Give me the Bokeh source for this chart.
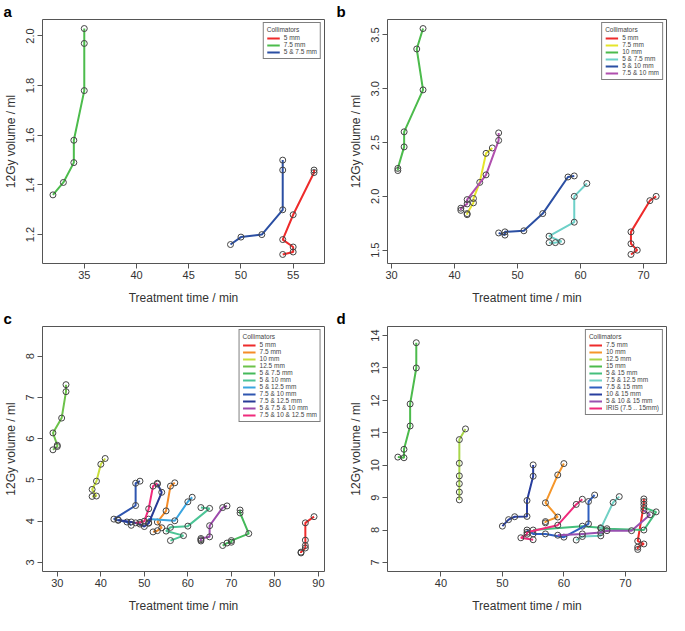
from bokeh.plotting import figure
from bokeh.models import Legend, LegendItem, Title, FixedTicker, Range1d
from bokeh.layouts import row, column
from bokeh.embed import file_html
from bokeh.resources import INLINE

FONT = "Liberation Sans"

# ---------------- Panel a ----------------
a_names = ["5 mm", "7.5 mm", "5 & 7.5 mm"]
a_colors = ["#ee2b2b", "#4cbc4c", "#2b4fa3"]
a_5_x = [54, 55, 55, 54, 55, 57, 57]
a_5_y = [1.12, 1.13, 1.15, 1.18, 1.28, 1.45, 1.46]
a_75_x = [32, 33, 34, 34, 35, 35, 35]
a_75_y = [1.36, 1.41, 1.49, 1.58, 1.78, 1.97, 2.03]
a_5_75_x = [49, 50, 52, 54, 54, 54]
a_5_75_y = [1.16, 1.19, 1.20, 1.30, 1.46, 1.50]
a_xticks = [35, 40, 45, 50, 55]
a_yticks = [1.2, 1.4, 1.6, 1.8, 2.0]
a_ylabels = ["1.2", "1.4", "1.6", "1.8", "2.0"]

# ---------------- Panel b ----------------
b_names = ["5 mm", "7.5 mm", "10 mm", "5 & 7.5 mm", "5 & 10 mm", "7.5 & 10 mm"]
b_colors = ["#ee2b2b", "#e5e52a", "#4cbb4c", "#6dd0c8", "#2b4fa3", "#b04fae"]
b_5_x = [68, 69, 68, 68, 71, 72]
b_5_y = [1.46, 1.50, 1.56, 1.67, 1.96, 2.00]
b_75_x = [42, 42, 43, 43, 44, 45, 46]
b_75_y = [1.83, 1.84, 1.94, 1.98, 2.13, 2.40, 2.45]
b_10_x = [31, 31, 32, 32, 35, 34, 35]
b_10_y = [2.24, 2.26, 2.46, 2.60, 2.99, 3.37, 3.56]
b_5_75_x = [55, 56, 57, 55, 59, 59, 61]
b_5_75_y = [1.57, 1.57, 1.58, 1.63, 1.76, 2.00, 2.12]
b_5_10_x = [47, 48, 48, 51, 54, 58, 59]
b_5_10_y = [1.66, 1.64, 1.67, 1.68, 1.84, 2.18, 2.19]
b_75_10_x = [41, 41, 42, 42, 45, 47, 47]
b_75_10_y = [1.87, 1.89, 1.93, 1.97, 2.20, 2.52, 2.59]
b_xticks = [30, 40, 50, 60, 70]
b_yticks = [1.5, 2.0, 2.5, 3.0, 3.5]
b_ylabels = ["1.5", "2.0", "2.5", "3.0", "3.5"]

# ---------------- Panel c ----------------
c_names = ["5 mm", "7.5 mm", "10 mm", "12.5 mm", "5 & 7.5 mm", "5 & 10 mm",
           "5 & 12.5 mm", "7.5 & 10 mm", "7.5 & 12.5 mm", "5 & 7.5 & 10 mm",
           "7.5 & 10 & 12.5 mm"]
c_colors = ["#ee2b2b", "#f58c28", "#c8de3c", "#6cc24a", "#44b95a", "#4cc496",
            "#3aa5e0", "#2f56b0", "#283a96", "#9c4aac", "#f02a7c"]
c_5_x = [86, 86, 87, 87, 87, 87, 89]
c_5_y = [3.23, 3.25, 3.35, 3.41, 3.54, 3.96, 4.11]
c_75_x = [52, 53, 54, 53, 55, 56, 57]
c_75_y = [3.74, 3.77, 3.84, 3.98, 4.25, 4.85, 4.93]
c_10_x = [38, 39, 38, 39, 40, 41]
c_10_y = [4.60, 4.61, 4.77, 4.97, 5.38, 5.52]
c_125_x = [29, 30, 30, 29, 31, 32, 32]
c_125_y = [5.73, 5.81, 5.84, 6.14, 6.50, 7.14, 7.31]
c_5_75_x = [68, 69, 70, 70, 74, 72, 72]
c_5_75_y = [3.41, 3.47, 3.49, 3.53, 3.70, 4.20, 4.27]
c_5_10_x = [56, 59, 55, 56, 60, 65, 63]
c_5_10_y = [3.53, 3.65, 3.76, 3.85, 3.88, 4.31, 4.33]
c_5_125_x = [51, 51, 57, 60, 61]
c_5_125_y = [3.96, 4.05, 4.01, 4.47, 4.58]
c_75_10_x = [47, 46, 44, 43, 48, 48, 49]
c_75_10_y = [3.90, 3.98, 4.02, 4.05, 4.38, 4.92, 4.97]
c_75_125_x = [44, 47, 49, 50, 51, 54, 53]
c_75_125_y = [4.03, 3.98, 3.93, 3.87, 3.95, 4.70, 4.90]
c_5_75_10_x = [63, 63, 63, 65, 65, 68, 69]
c_5_75_10_y = [3.52, 3.55, 3.58, 3.62, 3.89, 4.33, 4.37]
c_75_10_125_x = [48, 49, 50, 51, 52, 53]
c_75_10_125_y = [3.96, 3.97, 4.00, 4.30, 4.85, 4.92]
c_xticks = [30, 40, 50, 60, 70, 80, 90]
c_yticks = [3, 4, 5, 6, 7, 8]
c_ylabels = ["3", "4", "5", "6", "7", "8"]
c_ylim = (3, 8.5)

# ---------------- Panel d ----------------
d_names = ["7.5 mm", "10 mm", "12.5 mm", "15 mm", "5 & 15 mm", "7.5 & 12.5 mm",
           "7.5 & 15 mm", "10 & 15 mm", "5 & 10 & 15 mm", "IRIS (7.5 .. 15mm)"]
d_colors = ["#ee2b2b", "#f5962a", "#a8d64a", "#4cbb4c", "#44bf7c", "#70d0c4",
            "#2f5fc0", "#283e9e", "#9850b0", "#f02a7c"]
d_75_x = [73, 73, 73, 72, 73, 72, 72]
d_75_y = [8.96, 8.88, 8.79, 7.66, 7.57, 7.47, 7.40]
d_10_x = [57, 57, 59, 57, 59, 60]
d_10_y = [8.22, 8.26, 8.40, 8.84, 9.70, 10.05]
d_125_x = [43, 43, 43, 43, 43, 43, 44]
d_125_y = [8.93, 9.17, 9.43, 9.67, 10.06, 10.79, 11.12]
d_15_x = [33, 34, 34, 35, 35, 36, 36]
d_15_y = [10.25, 10.23, 10.49, 11.21, 11.89, 13.00, 13.78]
d_5_15_x = [55, 63, 66, 67, 73, 75, 73]
d_5_15_y = [8.00, 8.12, 8.07, 8.04, 8.00, 8.56, 8.69]
d_75_125_x = [62, 63, 66, 66, 68, 69]
d_75_125_y = [7.69, 7.80, 7.82, 8.05, 8.85, 9.03]
d_75_15_x = [54, 55, 57, 60, 64, 64, 65]
d_75_15_y = [8.00, 7.88, 7.88, 7.78, 8.19, 8.88, 9.08]
d_10_15_x = [50, 51, 52, 54, 54, 55, 55]
d_10_15_y = [8.12, 8.32, 8.41, 8.42, 8.91, 9.66, 10.01]
d_5_10_15_x = [59, 63, 66, 67, 71, 74, 73]
d_5_10_15_y = [7.84, 7.88, 7.92, 7.98, 7.98, 8.47, 8.60]
d_iris_x = [55, 53, 54, 54, 59, 62, 63]
d_iris_y = [7.70, 7.76, 7.87, 7.93, 8.15, 8.79, 8.95]
d_xticks = [40, 50, 60, 70]
d_yticks = [7, 8, 9, 10, 11, 12, 13, 14]
d_ylabels = ["7", "8", "9", "10", "11", "12", "13", "14"]
d_ylim = (7, 14)

A_SERIES = list(zip(a_names, a_colors, [a_5_x, a_75_x, a_5_75_x], [a_5_y, a_75_y, a_5_75_y]))
B_SERIES = list(zip(b_names, b_colors,
                    [b_5_x, b_75_x, b_10_x, b_5_75_x, b_5_10_x, b_75_10_x],
                    [b_5_y, b_75_y, b_10_y, b_5_75_y, b_5_10_y, b_75_10_y]))
C_SERIES = list(zip(c_names, c_colors,
                    [c_5_x, c_75_x, c_10_x, c_125_x, c_5_75_x, c_5_10_x, c_5_125_x,
                     c_75_10_x, c_75_125_x, c_5_75_10_x, c_75_10_125_x],
                    [c_5_y, c_75_y, c_10_y, c_125_y, c_5_75_y, c_5_10_y, c_5_125_y,
                     c_75_10_y, c_75_125_y, c_5_75_10_y, c_75_10_125_y]))
D_SERIES = list(zip(d_names, d_colors,
                    [d_75_x, d_10_x, d_125_x, d_15_x, d_5_15_x, d_75_125_x, d_75_15_x,
                     d_10_15_x, d_5_10_15_x, d_iris_x],
                    [d_75_y, d_10_y, d_125_y, d_15_y, d_5_15_y, d_75_125_y, d_75_15_y,
                     d_10_15_y, d_5_10_15_y, d_iris_y]))


def r_range(lo, hi):
    ext = (hi - lo) * 0.04
    return Range1d(lo - ext, hi + ext)


def make_panel(letter, series, xticks, yticks, ylabels, ylim, width, height,
               left, right, bottom):
    allx = [v for s in series for v in s[2]]
    ally = [v for s in series for v in s[3]]
    xr = r_range(min(allx), max(allx))
    yr = r_range(*(ylim if ylim else (min(ally), max(ally))))
    p = figure(width=width, height=height, x_range=xr, y_range=yr,
               output_backend="svg", toolbar_location=None,
               min_border_left=left, min_border_right=right,
               min_border_top=0, min_border_bottom=bottom)
    p.add_layout(Title(text=letter, align="left", offset=-(left - 2),
                       text_font=FONT, text_font_style="bold",
                       text_font_size="15px", text_color="black",
                       standoff=0, text_line_height=0.9), "above")
    p.grid.grid_line_color = None
    p.outline_line_color = "#555555"
    p.outline_line_width = 1
    p.background_fill_color = "white"
    p.border_fill_color = "white"
    for ax in (p.xaxis[0], p.yaxis[0]):
        ax.axis_line_color = None
        ax.major_tick_line_color = "#555555"
        ax.major_tick_out = 5
        ax.major_tick_in = 0
        ax.minor_tick_line_color = None
        ax.major_label_text_font = FONT
        ax.major_label_text_font_size = "11px"
        ax.major_label_text_color = "#333333"
        ax.axis_label_text_font = FONT
        ax.axis_label_text_font_size = "12px"
        ax.axis_label_text_font_style = "normal"
        ax.axis_label_text_color = "#333333"
    p.xaxis.ticker = FixedTicker(ticks=xticks)
    p.yaxis.ticker = FixedTicker(ticks=yticks)
    p.yaxis.major_label_overrides = {t: l for t, l in zip(yticks, ylabels)}
    p.yaxis.major_label_orientation = "vertical"
    p.xaxis.axis_label = "Treatment time / min"
    p.yaxis.axis_label = "12Gy volume / ml"
    p.xaxis.major_label_standoff = 2
    p.yaxis.major_label_standoff = 3
    p.xaxis.axis_label_standoff = 9
    p.yaxis.axis_label_standoff = 6

    items = []
    for name, color, xs, ys in series:
        ln = p.line(xs, ys, line_color=color, line_width=2)
        p.scatter(xs, ys, marker="circle", size=6, fill_color=None,
                  line_color="#444444", line_width=1)
        items.append(LegendItem(label=name, renderers=[ln]))
    leg = Legend(items=items, location="top_right", title="Collimators",
                 title_text_font=FONT, title_text_font_size="6.5px",
                 title_text_font_style="normal", title_standoff=1,
                 label_text_font=FONT, label_text_font_size="6.5px",
                 label_height=6, glyph_height=6, glyph_width=13,
                 label_standoff=4, spacing=0, padding=3, margin=3,
                 border_line_color="black", border_line_width=1,
                 background_fill_alpha=1.0)
    p.add_layout(leg)
    return p


pa = make_panel("a", A_SERIES, a_xticks, a_yticks, a_ylabels, None, 334, 307, 41, 10, 20)
pb = make_panel("b", B_SERIES, b_xticks, b_yticks, b_ylabels, None, 335, 307, 53, 3, 20)
pc = make_panel("c", C_SERIES, c_xticks, c_yticks, c_ylabels, c_ylim, 334, 308, 41, 10, 20)
pd = make_panel("d", D_SERIES, d_xticks, d_yticks, d_ylabels, d_ylim, 335, 308, 53, 3, 20)

layout = column(row(pa, pb), row(pc, pd))
open("out.html", "w").write(file_html(layout, INLINE))
